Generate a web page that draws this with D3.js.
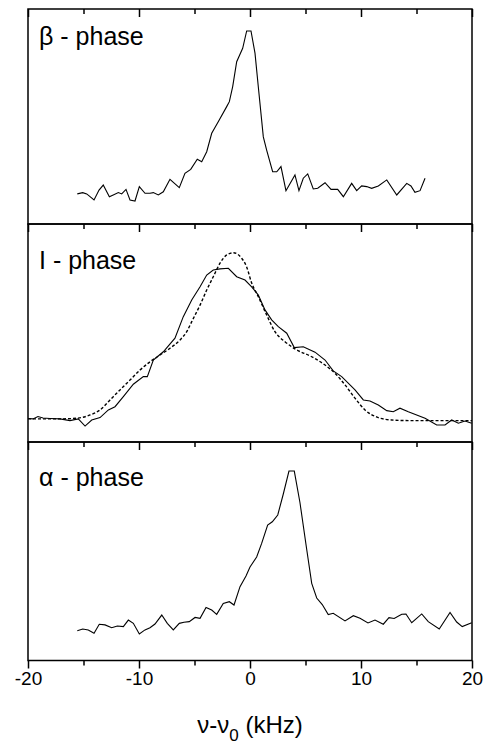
<!DOCTYPE html>
<html>
<head>
<meta charset="utf-8">
<script src="https://d3js.org/d3.v7.min.js"></script>
<style>
    body { margin: 0; background: #ffffff; }
    text { font-family: "Liberation Sans", Arial, sans-serif; fill: #000; }
</style>
</head>
<body>
<div id="chart"></div>
<script>
// x axis ticks (kHz)
var majorTicks = [-20, -10, 0, 10, 20];
var minorTicks = [-15, -5, 5, 15];

// panel names, top to bottom
var panelLabels = ["\u03b2 - phase", "I - phase", "\u03b1 - phase"];

// beta phase spectrum (kHz, arbitrary intensity)
var betaX = [-15.56, -15.07, -14.71, -14.05, -13.60, -13.22, -12.67, -12.32, -11.86, -11.56,
    -11.17, -10.81, -10.36, -9.97, -9.46, -9.01, -8.71, -8.26, -7.81, -7.21,
    -6.37, -5.86, -5.34, -4.75, -4.35, -3.90, -3.45, -2.86, -2.10, -1.86,
    -1.56, -1.20, -0.66, -0.30, 0.09, 0.45, 0.75, 1.20, 1.50, 2.04,
    2.41, 2.79, 3.24, 4.05, 4.41, 4.80, 5.20, 5.70, 6.10, 6.76,
    7.30, 7.90, 8.41, 9.16, 9.61, 10.06, 10.51, 10.96, 11.56, 12.32,
    13.22, 14.12, 14.50, 14.86, 15.32, 15.77];
var betaY = [14.0, 14.6, 14.0, 11.2, 15.8, 18.1, 12.7, 13.5, 14.6, 14.0,
    16.1, 11.2, 10.7, 17.4, 14.3, 14.3, 14.6, 13.5, 15.0, 20.8,
    16.9, 23.6, 25.4, 30.1, 29.0, 33.6, 42.2, 47.6, 54.6, 56.9,
    63.9, 75.5, 81.7, 89.8, 89.8, 79.5, 63.7, 40.5, 34.4, 24.3,
    24.3, 26.7, 15.5, 22.8, 15.5, 21.3, 23.3, 16.3, 16.6, 19.2,
    16.1, 16.1, 12.7, 18.9, 15.5, 17.7, 17.4, 16.6, 17.7, 20.5,
    13.5, 18.9, 17.7, 14.7, 15.5, 21.3];

// I phase spectrum, measured (solid)
var iX = [-20.0, -19.55, -19.10, -18.65, -18.02, -17.12, -16.22, -15.47, -14.86, -14.26,
    -13.51, -12.76, -12.16, -11.41, -10.51, -9.61, -9.25, -8.71, -7.81, -6.76,
    -6.01, -5.25, -4.50, -3.90, -3.31, -2.70, -1.95, -1.20, -0.45, 0.15,
    0.75, 1.35, 1.95, 2.55, 3.31, 3.99, 4.80, 5.86, 6.76, 7.50,
    8.26, 9.46, 10.21, 10.81, 11.56, 12.32, 12.91, 13.51, 14.26, 15.77,
    16.82, 17.57, 18.17, 18.77, 19.37, 19.97];
var iY = [10.8, 10.6, 11.7, 11.0, 10.8, 10.6, 9.8, 10.6, 7.3, 10.1,
    11.2, 14.7, 16.2, 20.8, 26.5, 30.0, 30.0, 37.6, 41.4, 47.6,
    57.5, 65.1, 71.2, 76.6, 78.9, 79.4, 79.7, 75.8, 74.3, 71.2,
    67.4, 60.6, 56.0, 52.9, 49.9, 43.3, 43.7, 41.2, 37.6, 32.6,
    30.0, 23.9, 19.3, 18.8, 17.0, 14.4, 13.9, 15.5, 13.9, 10.9,
    7.8, 7.8, 10.1, 8.6, 9.6, 8.6];

// I phase spectrum, calculated (dashed)
var iFitX = [-20.0, -17.12, -15.61, -14.41, -13.51, -12.61, -11.71, -10.81, -9.91, -9.01,
    -8.11, -7.21, -6.31, -5.70, -5.25, -4.50, -3.90, -3.31, -2.70, -2.10,
    -1.50, -0.75, -0.30, 0.15, 0.75, 1.50, 2.25, 3.15, 4.05, 5.56,
    6.76, 7.66, 8.56, 9.46, 10.36, 11.56, 12.77, 14.57, 17.57, 20.0];
var iFitY = [10.6, 10.6, 10.9, 12.4, 14.7, 19.3, 23.9, 28.4, 33.0, 36.8,
    39.9, 43.0, 46.8, 50.6, 55.2, 62.8, 69.7, 75.8, 82.0, 85.8,
    86.8, 84.3, 80.3, 72.9, 66.7, 58.3, 50.6, 46.0, 42.7, 39.1,
    35.3, 31.5, 26.2, 20.1, 14.7, 11.2, 10.1, 9.8, 9.8, 9.8];

// alpha phase spectrum
var alphaX = [-15.56, -15.07, -14.57, -14.05, -13.58, -13.06, -12.46, -11.95, -11.41, -10.96,
    -10.51, -9.97, -9.46, -9.01, -8.56, -7.95, -7.45, -6.91, -6.37, -5.95,
    -5.47, -4.95, -4.50, -3.96, -3.45, -3.00, -2.41, -1.86, -1.44, -0.90,
    -0.36, 0.00, 0.60, 1.05, 1.59, 2.01, 2.50, 3.00, 3.51, 3.99,
    4.50, 5.09, 5.56, 6.01, 6.51, 7.05, 7.50, 8.56, 9.31, 9.91,
    10.63, 11.26, 12.01, 12.52, 12.99, 13.67, 14.05, 14.57, 15.47, 16.06,
    17.05, 18.02, 18.62, 19.12, 19.97];
var alphaY = [13.6, 14.4, 14.0, 12.5, 16.6, 16.3, 15.0, 15.8, 15.5, 18.5,
    17.0, 12.1, 14.0, 15.0, 16.7, 20.8, 17.0, 14.0, 17.0, 17.5,
    17.8, 19.7, 19.3, 24.3, 23.1, 21.1, 26.1, 26.9, 25.4, 33.8,
    38.7, 42.8, 47.4, 53.6, 62.0, 63.5, 66.6, 76.2, 86.7, 86.7,
    72.3, 51.5, 35.3, 28.6, 25.6, 21.0, 21.6, 18.1, 20.5, 19.3,
    17.2, 18.5, 16.6, 19.6, 19.2, 21.2, 21.3, 17.3, 21.3, 17.8,
    14.4, 22.0, 17.6, 15.5, 17.3];

var width = 484, height = 744;
var left = 28, right = 472;
var panelTops = [9, 224, 442];
var panelBottom = 660.5;
var labelY = [45, 269, 486];

var svg = d3.select("#chart").append("svg")
    .attr("width", width)
    .attr("height", height);

var x = d3.scaleLinear().domain([-20, 20]).range([left, right]);

// series per panel: [xs, ys, dashed]
var panelSeries = [
    [[betaX, betaY, false]],
    [[iX, iY, false], [iFitX, iFitY, true]],
    [[alphaX, alphaY, false]]
];

panelTops.forEach(function(top, i) {
    var bottom = i < panelTops.length - 1 ? panelTops[i + 1] : panelBottom;
    var y = d3.scaleLinear().domain([0, 100]).range([bottom, top]);

    //Ticks on the top edge pointing into the panel
    svg.append("g")
        .attr("transform", "translate(0," + top + ")")
        .call(d3.axisTop(x).tickValues(majorTicks).tickSize(-8).tickFormat(""))
        .call(function(g) { g.select(".domain").remove(); })
        .selectAll("line").attr("stroke-width", 1.5);
    svg.append("g")
        .attr("transform", "translate(0," + top + ")")
        .call(d3.axisTop(x).tickValues(minorTicks).tickSize(-5).tickFormat(""))
        .call(function(g) { g.select(".domain").remove(); })
        .selectAll("line").attr("stroke-width", 1.5);

    //Curves
    panelSeries[i].forEach(function(s) {
        var pts = s[0].map(function(v, k) { return [v, s[1][k]]; });
        var line = d3.line()
            .x(function(d) { return x(d[0]); })
            .y(function(d) { return y(d[1]); })
            .curve(s[2] ? d3.curveMonotoneX : d3.curveLinear);
        svg.append("path")
            .datum(pts)
            .attr("d", line)
            .attr("fill", "none")
            .attr("stroke", "#000")
            .attr("stroke-width", s[2] ? 1.4 : 1.1)
            .attr("stroke-dasharray", s[2] ? "3,2" : null);
    });

    //Frame
    svg.append("rect")
        .attr("x", left)
        .attr("y", top)
        .attr("width", right - left)
        .attr("height", bottom - top)
        .attr("fill", "none")
        .attr("stroke", "#000")
        .attr("stroke-width", 1.5);

    svg.append("text")
        .attr("x", 39)
        .attr("y", labelY[i])
        .style("font-size", "25px")
        .text(panelLabels[i]);
});

//Bottom axis with labels (plain hyphen for negatives, like the original)
var xAxis = svg.append("g")
    .attr("transform", "translate(0," + panelBottom + ")")
    .call(d3.axisBottom(x).tickValues(majorTicks).tickSize(8).tickPadding(3)
        .tickFormat(function(d) { return String(d); }));
xAxis.select(".domain").remove();
xAxis.selectAll("line").attr("stroke-width", 1.5);
xAxis.selectAll("text")
    .style("font-size", "19px")
    .style("font-family", "'Liberation Sans', Arial, sans-serif")
    .attr("fill", "#000");

svg.append("g")
    .attr("transform", "translate(0," + panelBottom + ")")
    .call(d3.axisBottom(x).tickValues(minorTicks).tickSize(5).tickFormat(""))
    .call(function(g) { g.select(".domain").remove(); })
    .selectAll("line").attr("stroke-width", 1.5);

//Axis title with subscript
var title = svg.append("text")
    .attr("x", x(0))
    .attr("y", 733)
    .attr("text-anchor", "middle")
    .style("font-size", "24px");
title.append("tspan").text("\u03bd-\u03bd");
title.append("tspan").attr("dy", 8).style("font-size", "17px").text("0");
title.append("tspan").attr("dy", -8).text(" (kHz)");
</script>
</body>
</html>
